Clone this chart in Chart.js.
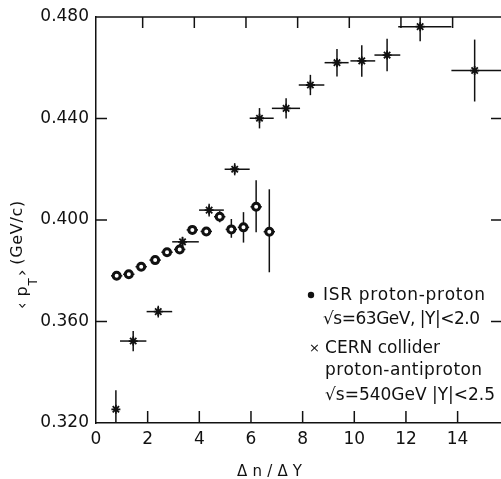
<!DOCTYPE html>
<html>
<head>
<meta charset="utf-8">
<script src="https://cdn.jsdelivr.net/npm/chart.js@4.4.1/dist/chart.umd.min.js"></script>
<style>
  html, body { margin: 0; padding: 0; background: #fff; overflow: hidden; }
  #wrap { width: 501px; height: 479px; }
</style>
</head>
<body>
<div id="wrap"><canvas id="chartCanvas" width="501" height="479"></canvas></div>
<script>
// ------- Data -------
const xTickValues = [0, 2, 4, 6, 8, 10, 12, 14];
const yTickValues = [0.32, 0.36, 0.40, 0.44, 0.48];

// ISR proton-proton, sqrt(s)=63 GeV
const isrX      = [0.80, 1.27, 1.75, 2.29, 2.75, 3.24, 3.73, 4.27, 4.79, 5.24, 5.71, 6.20, 6.71];
const isrY      = [0.3780, 0.3786, 0.3816, 0.3842, 0.3873, 0.3884, 0.3961, 0.3955, 0.4013, 0.3963, 0.3971, 0.4052, 0.3954];
const isrXErr   = [0.22, 0.22, 0.22, 0.22, 0.22, 0.22, 0.22, 0.22, 0.22, 0.22, 0.22, 0.22, 0.22];
const isrYErrHi = [0, 0, 0, 0, 0, 0, 0, 0, 0.0022, 0.0041, 0.0060, 0.0105, 0.0167];
const isrYErrLo = [0, 0, 0, 0, 0, 0, 0, 0, 0.0022, 0.0033, 0.0060, 0.0100, 0.0160];

// CERN collider proton-antiproton, sqrt(s)=540 GeV
const cernX    = [0.77, 1.44, 2.41, 3.35, 4.38, 5.37, 6.33, 7.36, 8.30, 9.33, 10.29, 11.27, 12.55, 14.66];
const cernY    = [0.3254, 0.3523, 0.3639, 0.3914, 0.4039, 0.4200, 0.4401, 0.4440, 0.4532, 0.4620, 0.4627, 0.4650, 0.4762, 0.4589];
const cernXLo  = [0.77, 0.93, 1.96, 2.95, 3.99, 4.98, 5.95, 6.81, 7.85, 8.85, 9.85, 10.78, 11.70, 13.76];
const cernXHi  = [0.77, 1.95, 2.95, 3.98, 4.95, 5.95, 6.88, 7.90, 8.84, 9.78, 10.81, 11.78, 13.76, 16.00];
const cernYErr = [0.0075, 0.0040, 0.0023, 0.0020, 0.0025, 0.0024, 0.0040, 0.0040, 0.0040, 0.0054, 0.0062, 0.0064, 0.0058, 0.0122];

// ------- Helpers -------
const FONT = '"DejaVu Sans", sans-serif';
const INK = "#111";

// draw text spread to a given width (the scanned lettering is wide)
function drawFit(ctx, text, x, y, width, size) {
  ctx.font = `${size}px ${FONT}`;
  const chars = Array.from(text);
  const widths = chars.map((c) => ctx.measureText(c).width);
  const natural = widths.reduce((a, b) => a + b, 0);
  const extra = chars.length > 1 ? (width - natural) / (chars.length - 1) : 0;
  let cx = x;
  chars.forEach((c, i) => {
    ctx.fillText(c, cx, y);
    cx += widths[i] + extra;
  });
}

const errorBars = {
  id: "errorBars",
  beforeDatasetsDraw(chart) {
    const { ctx, chartArea: a, scales: { x, y } } = chart;
    ctx.save();
    ctx.beginPath();
    ctx.rect(a.left, a.top, a.right - a.left + 4, a.bottom - a.top);
    ctx.clip();
    ctx.strokeStyle = INK;
    ctx.lineWidth = 1.5;
    const seg = (x1, y1, x2, y2) => {
      ctx.beginPath();
      ctx.moveTo(x1, y1);
      ctx.lineTo(x2, y2);
      ctx.stroke();
    };
    isrX.forEach((v, i) => {
      const py = y.getPixelForValue(isrY[i]);
      seg(x.getPixelForValue(v - isrXErr[i]), py, x.getPixelForValue(v + isrXErr[i]), py);
      if (isrYErrHi[i] > 0) {
        const px = x.getPixelForValue(v);
        seg(px, y.getPixelForValue(isrY[i] - isrYErrLo[i]), px, y.getPixelForValue(isrY[i] + isrYErrHi[i]));
      }
    });
    cernX.forEach((v, i) => {
      const px = x.getPixelForValue(v);
      const py = y.getPixelForValue(cernY[i]);
      if (cernXHi[i] > cernXLo[i]) {
        seg(x.getPixelForValue(cernXLo[i]), py, x.getPixelForValue(cernXHi[i]), py);
      }
      seg(px, y.getPixelForValue(cernY[i] - cernYErr[i]), px, y.getPixelForValue(cernY[i] + cernYErr[i]));
    });
    ctx.restore();
  },
};

const frameAndText = {
  id: "frameAndText",
  afterDraw(chart) {
    const { ctx, chartArea: a, scales: { x, y } } = chart;
    ctx.save();
    ctx.strokeStyle = INK;
    ctx.fillStyle = INK;
    ctx.lineWidth = 1.5;
    const seg = (x1, y1, x2, y2) => {
      ctx.beginPath();
      ctx.moveTo(x1, y1);
      ctx.lineTo(x2, y2);
      ctx.stroke();
    };
    // frame top (right edge of the frame falls just outside the picture)
    seg(a.left, a.top, a.right + 2, a.top);
    // inward ticks
    xTickValues.slice(1).forEach((v) => {
      const px = x.getPixelForValue(v);
      seg(px, a.bottom, px, a.bottom - 12);
      seg(px - 5, a.top, px - 5, a.top + 11); // top ticks, scan is a bit skewed
    });
    yTickValues.slice(1, -1).forEach((v) => {
      const py = y.getPixelForValue(v);
      seg(a.left, py, a.left + 11, py);
      seg(a.right - 10, py, a.right + 2, py);
    });

    // legend
    ctx.textBaseline = "middle";
    ctx.beginPath();
    ctx.arc(311, 295, 3.2, 0, Math.PI * 2);
    ctx.fill();
    drawFit(ctx, "ISR proton-proton", 323, 296, 162, 17);
    drawFit(ctx, "\u221As=63GeV, |Y|<2.0", 323, 320, 157, 17);
    ctx.font = `13px ${FONT}`;
    ctx.fillText("\u00D7", 309, 349);
    drawFit(ctx, "CERN collider", 325, 349, 115, 17);
    drawFit(ctx, "proton-antiproton", 325, 371, 157, 17);
    drawFit(ctx, "\u221As=540GeV |Y|<2.5", 325, 396, 170, 17);

    // x title
    drawFit(ctx, "\u0394n/\u0394Y", 237, 472, 65, 15);

    // y title (rotated), with subscript T
    ctx.translate(27, 309);
    ctx.rotate(-Math.PI / 2);
    ctx.textBaseline = "alphabetic";
    ctx.font = `16px ${FONT}`;
    let u = 0;
    ctx.fillText("\u2039", u, 0);
    u += ctx.measureText("\u2039").width + 6;
    ctx.fillText("p", u, 0);
    u += ctx.measureText("p").width + 1;
    ctx.font = `12px ${FONT}`;
    ctx.fillText("T", u, 10);
    u += ctx.measureText("T").width + 2;
    ctx.font = `16px ${FONT}`;
    ctx.fillText("\u203A", u, 0);
    u += ctx.measureText("\u203A").width + 5;
    drawFit(ctx, "(GeV/c)", u, -5, 64, 16);
    ctx.restore();
  },
};

// ------- Chart -------
const ctx = document.getElementById("chartCanvas").getContext("2d");
new Chart(ctx, {
  type: "scatter",
  data: {
    datasets: [
      {
        label: "ISR proton-proton",
        data: isrX.map((v, i) => ({ x: v, y: isrY[i] })),
        pointStyle: "circle",
        pointRadius: 3.5,
        backgroundColor: "#fff",
        borderColor: INK,
        borderWidth: 3,
      },
      {
        label: "CERN collider proton-antiproton",
        data: cernX.map((v, i) => ({ x: v, y: cernY[i] })),
        pointStyle: "star",
        pointRadius: 4.5,
        backgroundColor: INK,
        borderColor: INK,
        borderWidth: 1.8,
      },
    ],
  },
  options: {
    responsive: false,
    animation: false,
    events: [],
    layout: { autoPadding: false, padding: { left: 0, top: 17, right: 0, bottom: 0 } },
    plugins: { legend: { display: false }, tooltip: { enabled: false } },
    scales: {
      x: {
        type: "linear",
        min: 0,
        max: 15.68,
        afterBuildTicks: (s) => { s.ticks = xTickValues.map((v) => ({ value: v })); },
        afterFit: (s) => { s.height = 56; s.paddingLeft = 0; s.paddingRight = 0; },
        grid: { display: false, drawTicks: false },
        border: { color: INK, width: 1.5 },
        ticks: { color: INK, font: { family: FONT, size: 17 }, padding: 6, maxRotation: 0, autoSkip: false },
      },
      y: {
        type: "linear",
        min: 0.32,
        max: 0.48,
        afterBuildTicks: (s) => { s.ticks = yTickValues.map((v) => ({ value: v })); },
        afterFit: (s) => { s.width = 96; s.paddingTop = 0; s.paddingBottom = 0; },
        grid: { display: false, drawTicks: false },
        border: { color: INK, width: 1.5 },
        ticks: { color: INK, font: { family: FONT, size: 17 }, padding: 7, callback: (v) => Number(v).toFixed(3) },
      },
    },
  },
  plugins: [errorBars, frameAndText],
});
</script>
</body>
</html>
